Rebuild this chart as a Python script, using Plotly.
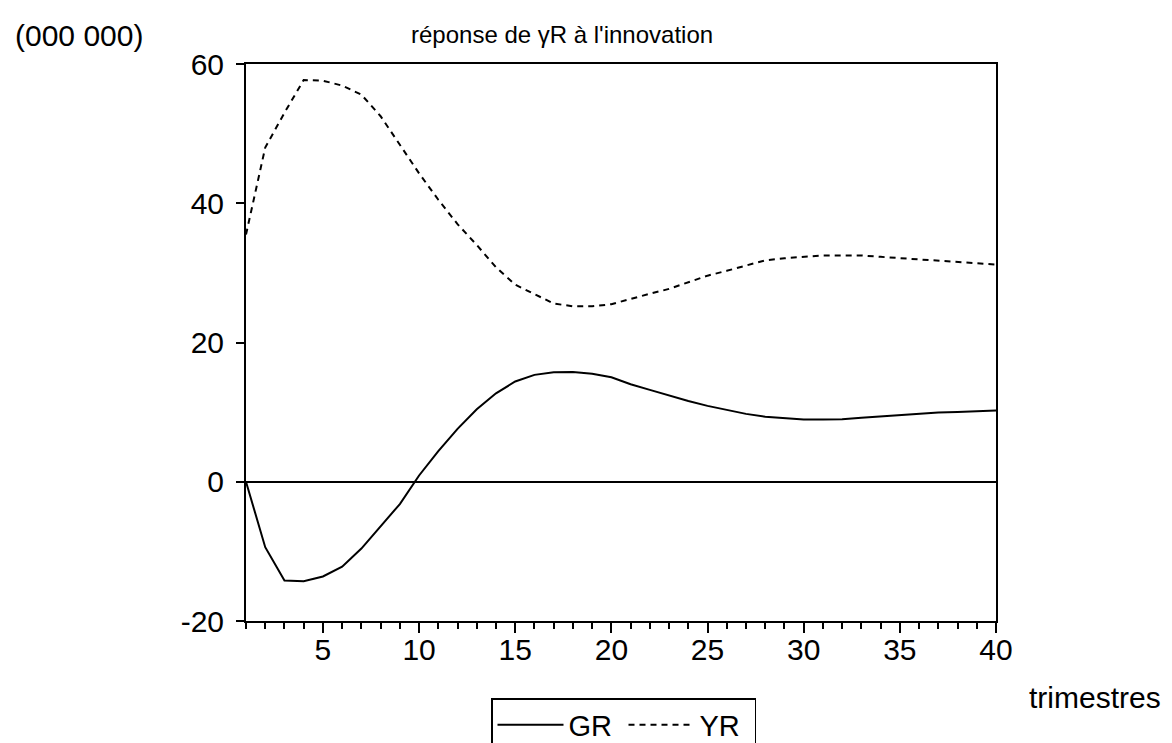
import plotly.graph_objects as go

# Quarters after the shock
trimestres = list(range(1, 41))

# Impulse responses (millions)
gr = [0.0, -9.4, -14.2, -14.3, -13.6, -12.2, -9.6, -6.4, -3.2, 0.9,
      4.4, 7.6, 10.4, 12.7, 14.4, 15.35, 15.73, 15.75, 15.5, 15.0,
      14.0, 13.2, 12.35, 11.6, 10.9, 10.3, 9.75, 9.35, 9.1, 8.95,
      8.93, 8.96, 9.2, 9.4, 9.6, 9.8, 9.93, 10.03, 10.15, 10.22]

yr = [35.5, 48.0, 53.0, 57.7, 57.6, 56.9, 55.6, 52.5, 48.4, 44.3,
      40.5, 37.0, 34.0, 30.8, 28.3, 26.9, 25.6, 25.2, 25.2, 25.5,
      26.3, 27.0, 27.7, 28.7, 29.6, 30.3, 31.1, 31.8, 32.1, 32.35,
      32.5, 32.5, 32.5, 32.3, 32.1, 31.9, 31.7, 31.55, 31.4, 31.2]

x_ticks = [5, 10, 15, 20, 25, 30, 35, 40]
y_ticks = [-20, 0, 20, 40, 60]
y_ticktext = ["-20", "0", "20", "40", "60"]

FONT = "Liberation Sans, Arial, sans-serif"
BIG = 30

fig = go.Figure()
fig.add_trace(go.Scatter(x=trimestres, y=gr, mode="lines", name="GR",
                         line=dict(color="black", width=2)))
fig.add_trace(go.Scatter(x=trimestres, y=yr, mode="lines", name="YR",
                         line=dict(color="black", width=2, dash="6px,5px")))

fig.update_layout(
    width=1172, height=743,
    margin=dict(l=246, r=176, t=64, b=122, autoexpand=False),
    paper_bgcolor="white", plot_bgcolor="white",
    font=dict(family=FONT, size=BIG, color="black"),
    title=dict(text="réponse de γR à l'innovation",
               xref="paper", x=(411 - 246) / 750, xanchor="left",
               yref="container", y=1 - 35 / 743, yanchor="middle",
               font=dict(family=FONT, size=24, color="black")),
    showlegend=True,
    legend=dict(orientation="h", x=(623.5 - 246) / 750, xanchor="center",
                y=(621 - 698) / 557, yanchor="top",
                bordercolor="black", borderwidth=1.5,
                bgcolor="white",
                font=dict(family=FONT, size=29, color="black"),
                itemwidth=66,
                entrywidth=50, entrywidthmode="pixels",
                tracegroupgap=0),
    annotations=[
        dict(text="(000 000)", xref="paper", yref="paper",
             x=(13 - 246) / 750, y=(621 - 35.5) / 557,
             xanchor="left", yanchor="middle",
             showarrow=False, font=dict(family=FONT, size=BIG, color="black")),
        dict(text="trimestres", xref="paper", yref="paper",
             x=(1027 - 246) / 750, y=(621 - 697) / 557,
             xanchor="left", yanchor="middle",
             showarrow=False, font=dict(family=FONT, size=BIG, color="black")),
    ],
)

fig.update_xaxes(
    range=[1, 40], tickvals=x_ticks,
    showgrid=False, zeroline=False,
    showline=True, linecolor="black", linewidth=2, mirror=True,
    ticks="outside", ticklen=10, tickwidth=1.5, tickcolor="black",
    ticklabelstandoff=-9,
    minor=dict(dtick=1, ticks="outside", ticklen=6, tickwidth=1.5,
               tickcolor="black", showgrid=False),
)
fig.update_yaxes(
    range=[-20, 60], tickvals=y_ticks, ticktext=y_ticktext,
    showgrid=False,
    zeroline=True, zerolinecolor="black", zerolinewidth=1.5,
    showline=True, linecolor="black", linewidth=2, mirror=True,
    ticks="outside", ticklen=8, tickwidth=1.5, tickcolor="black",
    ticklabelstandoff=6,
)

fig.write_html("out.html")
